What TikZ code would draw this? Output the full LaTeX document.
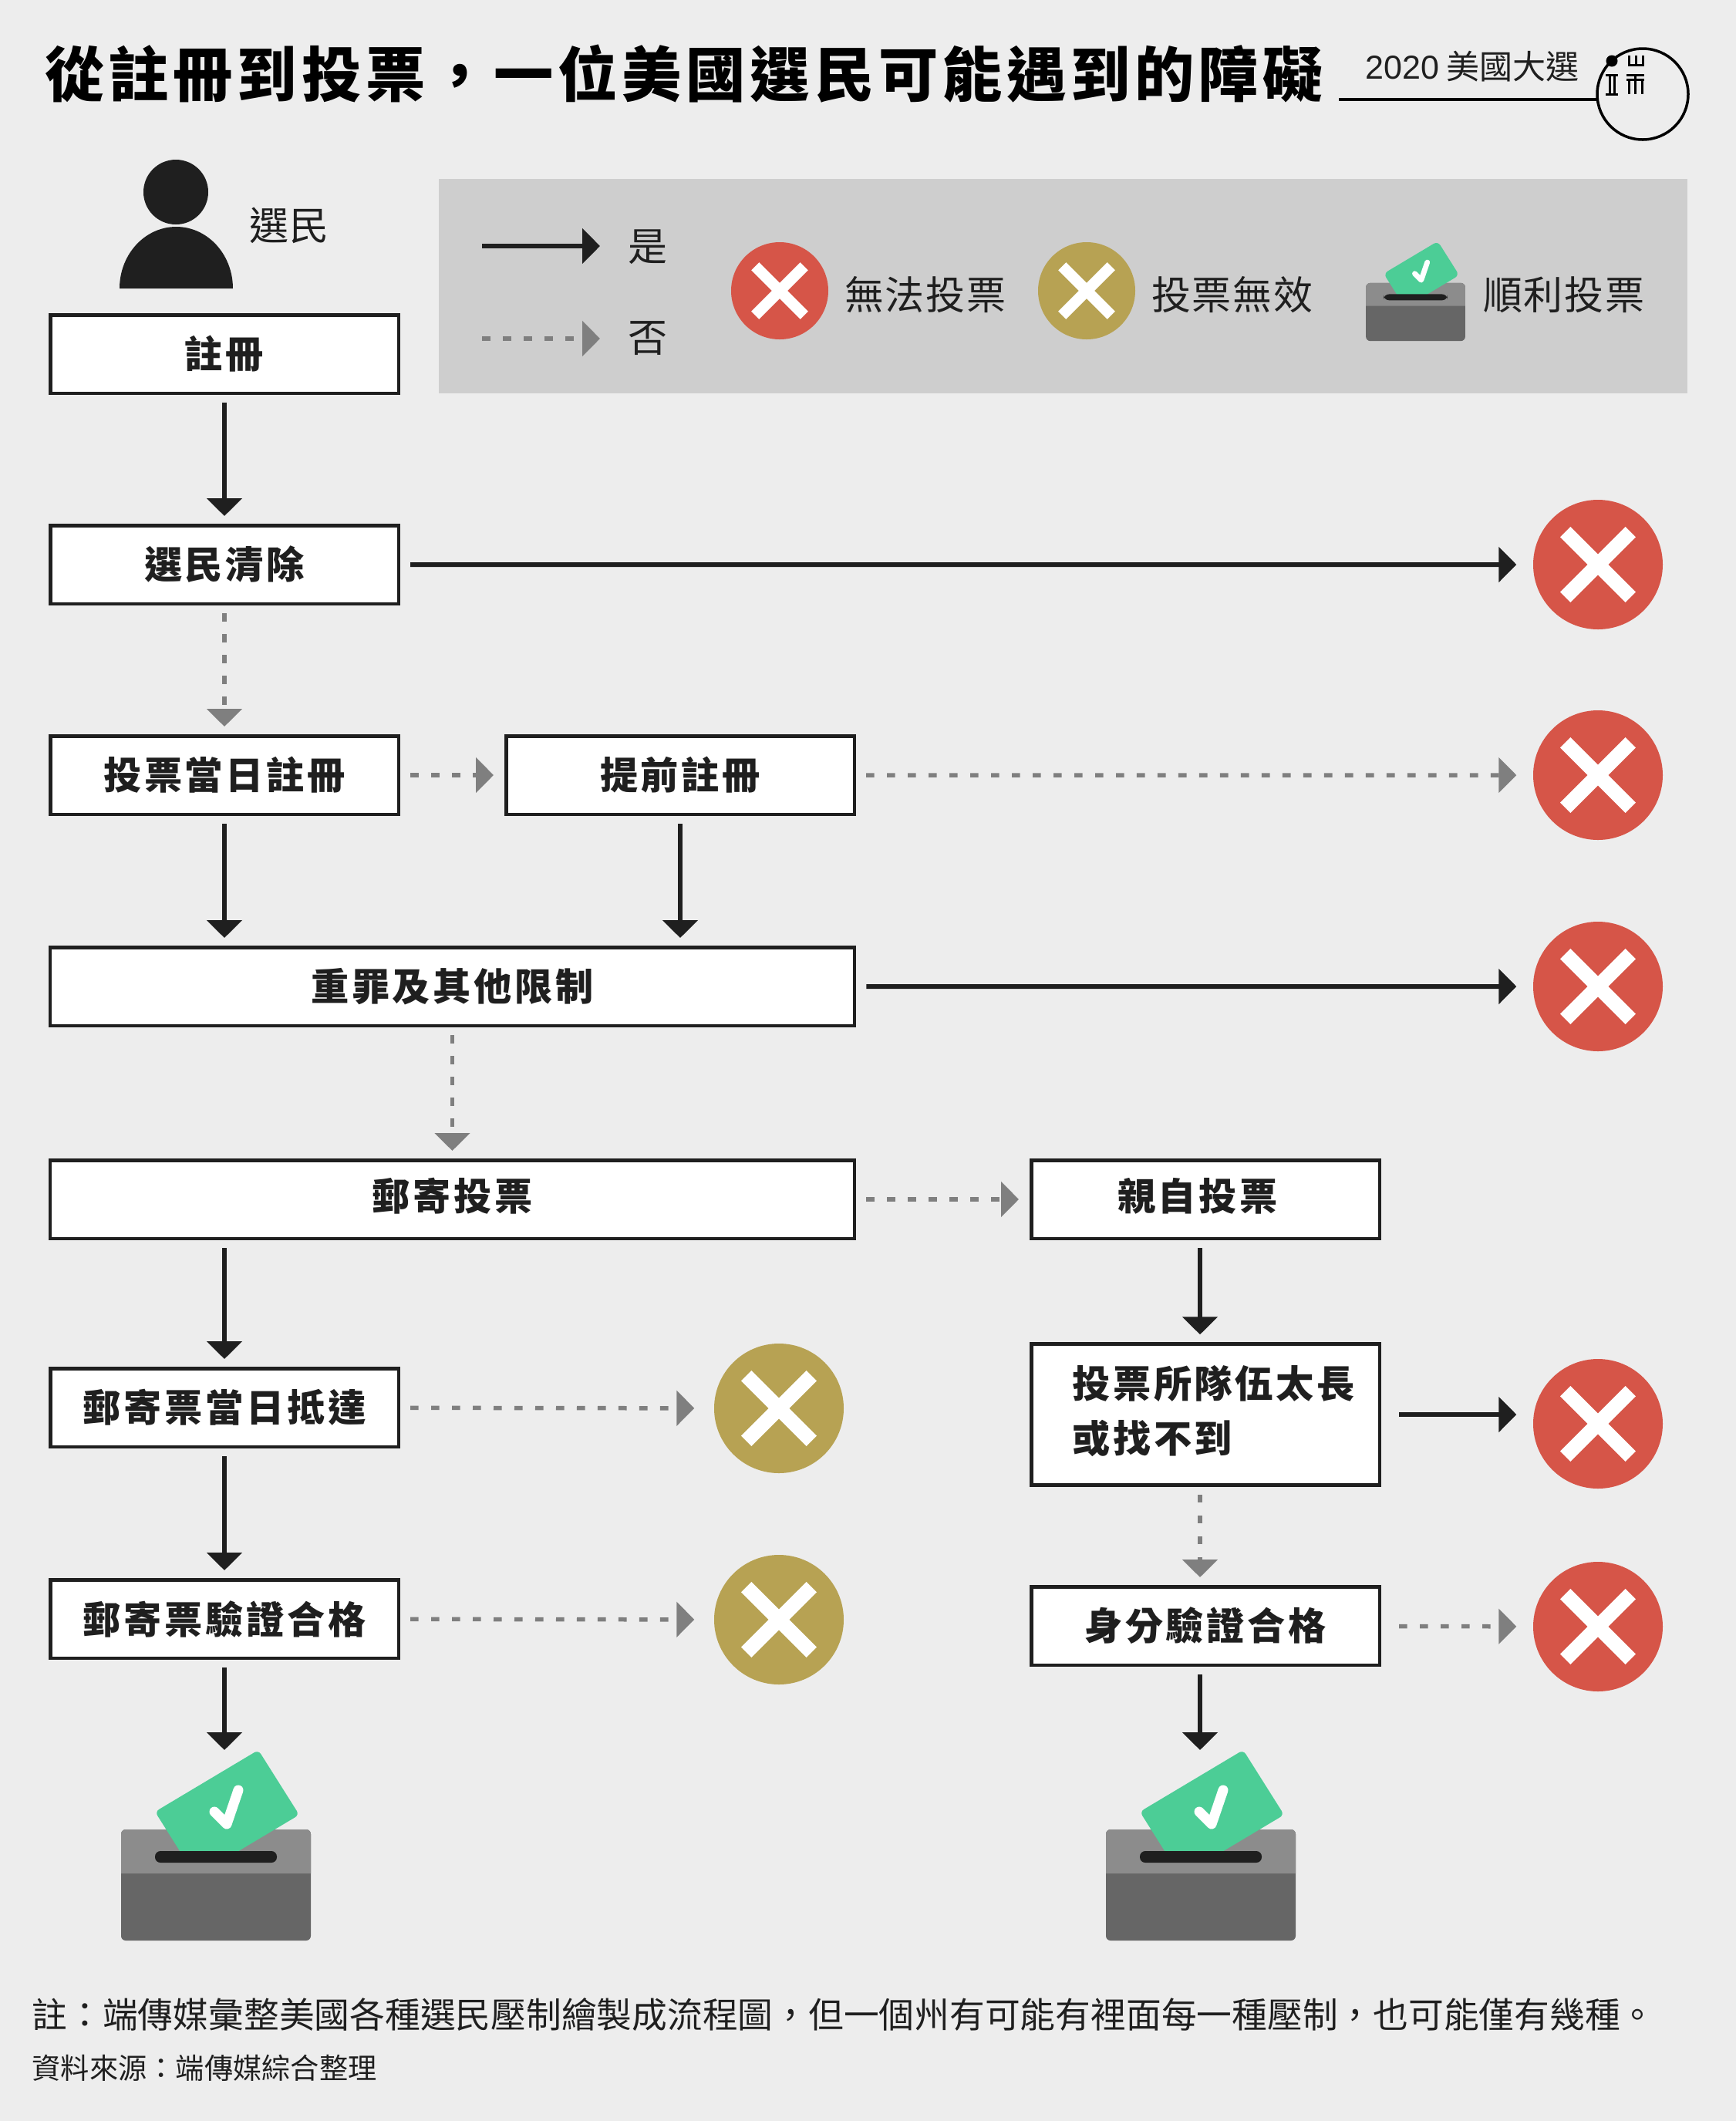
\documentclass[tikz,border=0pt]{standalone}
\usepackage{fontspec}
\setmainfont{Noto Sans CJK TC}
\newfontfamily\heavyfont[LetterSpace=7.5]{Noto Sans CJK TC Black}
\newfontfamily\plainfont[LetterSpace=4]{Noto Sans CJK TC}
\newfontfamily\latinfont{Liberation Sans}
\usepackage{tikz}
\usetikzlibrary{arrows.meta, positioning, calc}
\definecolor{pagecol}{HTML}{EDEDED}
\definecolor{legendcol}{HTML}{CECECE}
\definecolor{inkcol}{HTML}{1F1F1F}
\definecolor{nocol}{HTML}{7F7F7F}
\definecolor{redcol}{HTML}{D65548}
\definecolor{goldcol}{HTML}{B7A253}
\definecolor{cardcol}{HTML}{4CCD96}
\definecolor{boxtopcol}{HTML}{8C8C8C}
\definecolor{boxcol}{HTML}{666666}
\tikzstyle{stepbox} = [rectangle, minimum width=4.515cm, minimum height=1.015cm, text centered, draw=inkcol, line width=0.045cm, fill=white, text=inkcol, font=\heavyfont\fontsize{14}{20}\selectfont]
\tikzstyle{widebox} = [stepbox, minimum width=10.43cm]
\tikzstyle{legendtext} = [text=inkcol, font=\plainfont\fontsize{14.5}{18}\selectfont]
\tikzstyle{yes} = [line width=0.06cm, draw=inkcol, -{Triangle[length=0.23cm, width=0.45cm]}, shorten <=0.1cm, shorten >=0.1cm]
\tikzstyle{no} = [line width=0.055cm, draw=nocol, dash pattern=on 0.107cm off 0.163cm, -{Triangle[length=0.23cm, width=0.45cm]}, shorten <=0.1cm, shorten >=0.1cm]
\tikzstyle{across} = [shorten <=0.13cm, shorten >=0.14cm]
\tikzset{
  crossx/.style={circle, inner sep=0pt, minimum size=#1, path picture={
    \draw[white, line width=0.113*#1]
      ($(path picture bounding box.north west)!0.248!(path picture bounding box.south east)$) --
      ($(path picture bounding box.north west)!0.752!(path picture bounding box.south east)$)
      ($(path picture bounding box.north east)!0.248!(path picture bounding box.south west)$) --
      ($(path picture bounding box.north east)!0.752!(path picture bounding box.south west)$);}},
  ballot/.pic={
    \fill[boxcol, rounded corners=0.06cm] (-1.23,-0.72) rectangle (1.23,0.72);
    \fill[boxtopcol] (-1.23,0.15) [rounded corners=0.06cm] -- (-1.23,0.72) -- (1.23,0.72) [sharp corners] -- (1.23,0.15) -- cycle;
    \begin{scope}
      \clip (-1.23,0.40) rectangle (1.23,2);
      \fill[cardcol, rounded corners=0.06cm] (-0.79,0.95) -- (0.55,1.75) -- (1.08,0.91) -- (-0.26,0.11) -- cycle;
    \end{scope}
    \fill[inkcol, rounded corners=0.07cm] (-0.79,0.44) rectangle (0.79,0.29);
    \draw[white, line cap=round, line join=round] (-0.02,0.95) -- (0.14,0.79) -- (0.29,1.23);
  }
}
\begin{document}
\begin{tikzpicture}[node distance=2.73cm]
  \useasboundingbox (0,0) rectangle (22.51,-27.5);
  \fill[pagecol] (0,0) rectangle (22.51,-27.5);

  % heading
  \node (title) [anchor=west, inner sep=0pt, font=\heavyfont\fontsize{22}{26}\selectfont] at (0.58,-0.96) {從註冊到投票，一位美國選民可能遇到的障礙};
  \node (series) [text=inkcol, font=\fontsize{12.25}{15}\selectfont] at (19.09,-0.86) {{\latinfont 2020} 美國大選};
  \draw[black, line width=0.035cm] (17.36,-1.29) -- (20.71,-1.29);
  \draw[black, line width=0.035cm] (21.30,-1.22) circle (0.59);
  \fill[black] (20.90,-0.79) circle (0.075);
  \draw[black, line width=0.03cm] (20.82,-0.97) -- (20.98,-0.97) (20.82,-1.22) -- (20.98,-1.22) (20.87,-0.97) -- (20.87,-1.22) (20.93,-0.97) -- (20.93,-1.22);
  \draw[black, line width=0.03cm] (21.09,-0.97) -- (21.32,-0.97) (21.09,-1.03) -- (21.32,-1.03) (21.12,-1.03) -- (21.12,-1.22) (21.20,-0.97) -- (21.20,-1.22) (21.29,-1.03) -- (21.29,-1.22);
  \draw[black, line width=0.03cm] (21.12,-0.72) -- (21.12,-0.84) -- (21.30,-0.84) -- (21.30,-0.72) (21.21,-0.72) -- (21.21,-0.84);

  % voter
  \fill[inkcol] (2.28,-2.49) circle (0.42);
  \fill[inkcol] (1.55,-3.74) arc[start angle=180, end angle=0, x radius=0.735, y radius=0.80] -- cycle;
  \node (voter) [legendtext] at (3.75,-2.92) {選民};

  % legend
  \fill[legendcol] (5.69,-2.32) rectangle (21.88,-5.10);
  \coordinate (yesa) at (6.15,-3.19);
  \coordinate (yesb) at (7.88,-3.19);
  \coordinate (noa) at (6.15,-4.39);
  \coordinate (nob) at (7.88,-4.39);
  \draw[yes] (yesa) -- (yesb);
  \draw[no] (noa) -- (nob);
  \node (yeslabel) [legendtext] at (8.40,-3.20) {是};
  \node (nolabel) [legendtext] at (8.40,-4.39) {否};
  \node (legendred) [crossx=1.26cm, fill=redcol] at (10.11,-3.77) {};
  \node (redlabel) [legendtext] at (12.00,-3.82) {無法投票};
  \node (legendgold) [crossx=1.26cm, fill=goldcol] at (14.09,-3.77) {};
  \node (goldlabel) [legendtext] at (15.98,-3.82) {投票無效};
  \pic[scale=0.524, line width=0.068cm] at (18.355,-4.045) {ballot};
  \node (oklabel) [legendtext] at (20.28,-3.82) {順利投票};

  % left column
  \node (reg) [stepbox] at (2.91,-4.59) {註冊};
  \node (purge) [stepbox, below of=reg] {選民清除};
  \node (sameday) [stepbox, below of=purge] {投票當日註冊};
  \node (early) [stepbox, right of=sameday, node distance=5.91cm] {提前註冊};
  \node (felony) [widebox] at (5.865,-12.79) {重罪及其他限制};
  \node (mail) [widebox, below of=felony, yshift=-0.03cm] {郵寄投票\rule[-0.14cm]{0pt}{0pt}};
  \node (arrive) [stepbox] at (2.91,-18.25) {郵寄票當日抵達};
  \node (mailok) [stepbox, below of=arrive, yshift=-0.01cm] {郵寄票驗證合格};

  % right column
  \node (inperson) [stepbox] at (15.63,-15.55) {親自投票\hspace*{0.2cm}\rule[-0.14cm]{0pt}{0pt}};
  \node (queue) [stepbox, minimum height=1.83cm, text width=3.455cm, inner xsep=0.53cm, align=left] at (15.63,-18.34) {投票所隊伍太長\\或找不到\rule[-0.14cm]{0pt}{0pt}};
  \node (idok) [stepbox] at (15.63,-21.08) {身分驗證合格};

  % outcomes
  \node (purgeend) [crossx=1.68cm, fill=redcol] at (20.72,-7.32) {};
  \node (earlyend) [crossx=1.68cm, fill=redcol, below of=purgeend] {};
  \node (felonyend) [crossx=1.68cm, fill=redcol, below of=earlyend, yshift=-0.01cm] {};
  \node (queueend) [crossx=1.68cm, fill=redcol] at (20.72,-18.46) {};
  \node (idend) [crossx=1.68cm, fill=redcol] at (20.72,-21.09) {};
  \node (arriveend) [crossx=1.68cm, fill=goldcol] at (10.10,-18.26) {};
  \node (mailend) [crossx=1.68cm, fill=goldcol] at (10.10,-21.00) {};
  \pic[line width=0.13cm] at (2.80,-24.44) {ballot};
  \pic[line width=0.13cm] at (15.57,-24.44) {ballot};
  \coordinate (mailbox) at (2.91,-22.79);
  \coordinate (idbox) at (15.56,-22.79);

  \draw[yes] (reg) -- (purge);
  \draw[yes, across, shorten >=0.21cm] (purge) -- (purgeend);
  \draw[no] (purge) -- (sameday);
  \draw[no, across] (sameday) -- (early);
  \draw[no, across, shorten >=0.21cm] (early) -- (earlyend);
  \draw[yes] (sameday) -- (sameday |- felony.north);
  \draw[yes] (early) -- (early |- felony.north);
  \draw[yes, across, shorten >=0.21cm] (felony) -- (felonyend);
  \draw[no] (felony) -- (mail);
  \draw[no, across] (mail.east |- inperson) -- (inperson);
  \draw[yes] (arrive |- mail.south) -- (arrive);
  \draw[no, across, shorten >=0.25cm] (arrive) -- (arriveend);
  \draw[yes] (arrive) -- (mailok);
  \draw[no, across, shorten >=0.25cm] (mailok) -- (mailend);
  \draw[yes] (mailok) -- (mailbox);
  \draw[yes] ([xshift=-0.07cm]inperson.south) -- ([xshift=-0.07cm]queue.north);
  \draw[yes, shorten <=0.23cm, shorten >=0.21cm] (queue) -- (queue -| queueend.west);
  \draw[no] ([xshift=-0.07cm]queue.south) -- ([xshift=-0.07cm]idok.north);
  \draw[no, shorten <=0.23cm, shorten >=0.21cm] (idok) -- (idend);
  \draw[yes] ([xshift=-0.07cm]idok.south) -- (idbox);

  % notes
  \node (note) [anchor=west, inner sep=0pt, text=inkcol, font=\fontsize{13.02}{16}\selectfont] at (0.41,-26.12) {註：端傳媒彙整美國各種選民壓制繪製成流程圖，但一個州有可能有裡面每一種壓制，也可能僅有幾種。};
  \node (source) [anchor=west, inner sep=0pt, text=inkcol, font=\fontsize{10.6}{13}\selectfont] at (0.41,-26.81) {資料來源：端傳媒綜合整理};
\end{tikzpicture}
\end{document}
